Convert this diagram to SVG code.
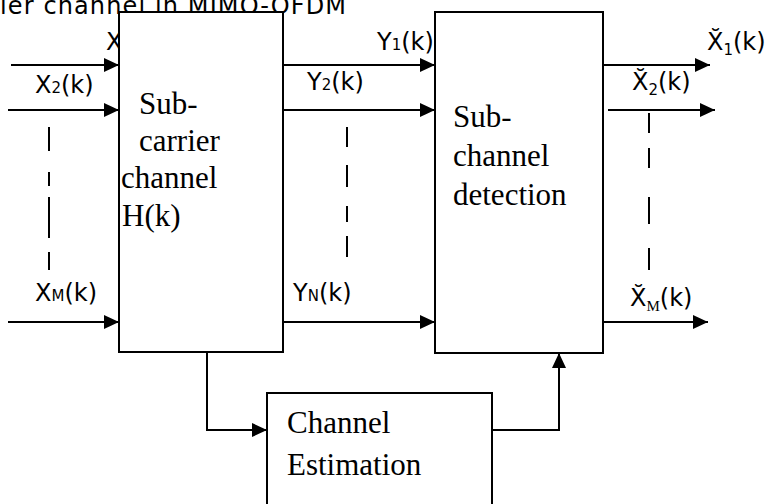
<svg xmlns="http://www.w3.org/2000/svg" width="766" height="504" viewBox="0 0 766 504">
<defs>
<marker id="ah" markerUnits="userSpaceOnUse" markerWidth="15" markerHeight="14" refX="15" refY="7" orient="auto">
<path d="M0,0 L15,7 L0,14 z" fill="#000"/>
</marker>
<style>
.box{fill:#fff;stroke:#000;stroke-width:2}
.ar{fill:none;stroke:#000;stroke-width:2;marker-end:url(#ah)}
.lab{font-family:"DejaVu Sans",sans-serif;font-size:24px;fill:#000}
.sub{font-size:15px}
.ser{font-family:"Liberation Serif",serif;font-size:31px;fill:#000}
.dash{stroke:#000;stroke-width:2}
</style>
</defs>
<rect width="766" height="504" fill="#fff"/>
<text class="lab" x="0" y="14" textLength="346" lengthAdjust="spacing">ier channel in MIMO-OFDM</text>
<text class="lab" x="106" y="50">X<tspan class="sub">1</tspan>(k)</text>
<g id="connectors">
<line class="ar" x1="11" y1="65" x2="119" y2="65"/>
<line class="ar" x1="8" y1="110" x2="119" y2="110"/>
<line class="ar" x1="8" y1="322" x2="119" y2="322"/>
<line class="ar" x1="283" y1="65" x2="435" y2="65"/>
<line class="ar" x1="283" y1="110" x2="435" y2="110"/>
<line class="ar" x1="283" y1="322" x2="435" y2="322"/>
<line class="ar" x1="603" y1="65" x2="710" y2="65"/>
<line class="ar" x1="608" y1="110" x2="715" y2="110"/>
<line class="ar" x1="603" y1="322" x2="708" y2="322"/>
<path class="ar" d="M207,352 V430 H267"/>
<path class="ar" d="M492,430 H559 V353"/>
<path class="dash" d="M49,127V151M49,172V186M49,197V238M49,252V270"/>
<path class="dash" d="M347,127V147M347,165V187M347,206V222M347,236V257"/>
<path class="dash" d="M649,113V133M649,148V168M649,197V224M649,248V270"/>
</g>
<g id="labels">
<text class="lab" x="35" y="93">X<tspan class="sub">2</tspan>(k)</text>
<text class="lab" x="35" y="301">X<tspan class="sub">M</tspan>(k)</text>
<text class="lab" x="377" y="50">Y<tspan class="sub">1</tspan>(k)</text>
<text class="lab" x="307" y="90">Y<tspan class="sub">2</tspan>(k)</text>
<text class="lab" x="293" y="301">Y<tspan class="sub">N</tspan>(k)</text>
<text class="lab" x="707" y="50">X̆<tspan class="sub" dy="5">1</tspan><tspan dy="-5">(k)</tspan></text>
<text class="lab" x="632" y="90">X̆<tspan class="sub" dy="5">2</tspan><tspan dy="-5">(k)</tspan></text>
<text class="lab" x="630" y="306">X̆<tspan class="sub" dy="5" font-family="Liberation Serif">M</tspan><tspan dy="-5">(k)</tspan></text>
</g>
<g id="subcarrier">
<rect class="box" x="119" y="12" width="164" height="340"/>
<text class="ser" x="139" y="114">Sub-</text>
<text class="ser" x="139" y="151">carrier</text>
<text class="ser" x="121" y="188">channel</text>
<text class="ser" x="122" y="226">H(k)</text>
</g>
<g id="detection">
<rect class="box" x="435" y="12" width="168" height="341"/>
<text class="ser" x="453" y="127">Sub-</text>
<text class="ser" x="453" y="166">channel</text>
<text class="ser" x="453" y="205">detection</text>
</g>
<g id="estimation">
<rect class="box" x="267" y="393" width="225" height="130"/>
<text class="ser" x="287" y="433" font-size="32">Channel</text>
<text class="ser" x="287" y="475" font-size="32">Estimation</text>
</g>
</svg>
